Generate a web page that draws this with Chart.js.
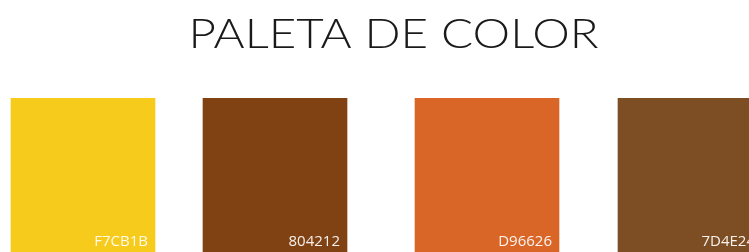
<!DOCTYPE html>
<html>
<head>
<meta charset="utf-8">
<script src="https://cdn.jsdelivr.net/npm/chart.js@4/dist/chart.umd.min.js"></script>
<style>
  html, body { margin: 0; padding: 0; background: #fff; }
  canvas { display: block; }
</style>
</head>
<body>
<canvas id="paleta" width="749" height="252"></canvas>
<script>
var titulo = "PALETA DE COLOR";
var colores = ["F7CB1B", "804212", "D96626", "7D4E24"];
var inicio = [11, 203, 415, 618];
var fin = [155, 347, 559, 762];

// titulo: va algo a la derecha del centro y es una letra ancha, se dibuja a mano
var cabecera = {
  id: "cabecera",
  afterDraw: function (chart) {
    var ctx = chart.ctx;
    ctx.save();
    ctx.font = "300 42px Lato";
    ctx.fillStyle = "#1a1a1a";
    ctx.textAlign = "left";
    ctx.textBaseline = "alphabetic";
    var m = ctx.measureText(titulo);
    var w = m.actualBoundingBoxRight + m.actualBoundingBoxLeft;
    ctx.translate(193, 48);
    ctx.scale(405 / w, 1);
    ctx.fillText(titulo, m.actualBoundingBoxLeft, 0);
    ctx.restore();
  }
};

// etiqueta con el codigo hex en la esquina de cada muestra
var etiquetas = {
  id: "etiquetas",
  afterDatasetsDraw: function (chart) {
    var ctx = chart.ctx;
    ctx.save();
    ctx.font = "15px 'Open Sans'";
    ctx.fillStyle = "rgba(255,255,255,0.92)";
    ctx.textAlign = "right";
    ctx.textBaseline = "alphabetic";
    chart.data.datasets.forEach(function (ds, i) {
      var bar = chart.getDatasetMeta(i).data[0];
      var right = Math.max(bar.x, bar.base);
      var bottom = bar.y + bar.height / 2;
      ctx.fillText(ds.label, right - 7, bottom - 6);
    });
    ctx.restore();
  }
};

window.addEventListener("load", function () {
  var datasets = [];
  for (var i = 0; i < colores.length; i++) {
    datasets.push({
      label: colores[i],
      data: [[inicio[i], fin[i]]],
      backgroundColor: "#" + colores[i],
      borderWidth: 0,
      grouped: false,
      categoryPercentage: 1,
      barPercentage: 1
    });
  }
  new Chart(document.getElementById("paleta").getContext("2d"), {
    type: "bar",
    data: { labels: ["paleta"], datasets: datasets },
    options: {
      indexAxis: "y",
      responsive: false,
      animation: false,
      layout: { padding: { top: 98, left: 0, right: 0, bottom: 0 } },
      scales: {
        x: { type: "linear", min: 0, max: 749, display: false },
        y: { display: false }
      },
      plugins: {
        legend: { display: false },
        tooltip: { enabled: false },
        title: { display: false }
      }
    },
    plugins: [etiquetas, cabecera]
  });
});
</script>
</body>
</html>
